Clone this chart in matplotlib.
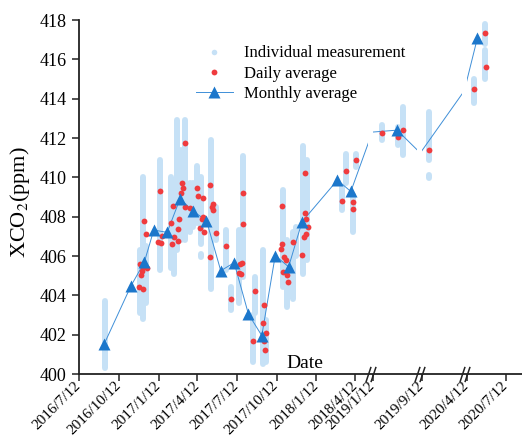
import numpy as np
import pandas as pd
import matplotlib
matplotlib.use("Agg")
import matplotlib.pyplot as plt
import matplotlib.dates as mdates
from matplotlib.lines import Line2D

plt.rcParams['font.family'] = ['Liberation Serif', 'DejaVu Serif']
plt.rcParams['mathtext.fontset'] = 'stix'

# individual soundings, drawn as one column per day (min .. max)
ind_dates = ["2016-09-10", "2016-11-29", "2016-12-06", "2016-12-14", "2017-01-15",
             "2017-02-10", "2017-02-17", "2017-02-24", "2017-03-05", "2017-03-14",
             "2017-03-26", "2017-04-02", "2017-04-12", "2017-04-20", "2017-04-21",
             "2017-05-13", "2017-05-25", "2017-06-16", "2017-06-28", "2017-07-18",
             "2017-07-27", "2017-08-23", "2017-08-19", "2017-09-10", "2017-09-18",
             "2017-10-26", "2017-11-05", "2017-11-20", "2017-11-26", "2017-12-12",
             "2017-12-21", "2018-03-12", "2018-03-22", "2018-04-08", "2018-04-14",
             "2019-02-02", "2019-03-10", "2019-03-22", "2019-09-29", "2019-09-29",
             "2020-04-30", "2020-05-25", "2020-05-25"]
ind_low = [400.3, 403.1, 402.8, 403.6, 405.3, 405.4, 405.1, 406.3, 406.8, 406.8,
           407.2, 407.5, 407.7, 406.6, 405.95, 404.3, 406.8, 405.3, 403.25, 403.6,
           404.95, 403.1, 400.6, 400.5, 400.6, 404.4, 403.4, 403.8, 406.0, 405.1,
           405.8, 408.35, 409.7, 407.2, 410.55, 411.9, 411.65, 411.15, 410.9, 409.95,
           413.8, 416.8, 415.0]
ind_high = [403.7, 406.3, 410.0, 406.5, 410.9, 410.0, 409.6, 412.9, 411.4, 412.9,
            409.7, 409.7, 410.6, 410.0, 406.1, 411.9, 408.5, 407.3, 404.4, 407.3,
            411.1, 404.95, 403.0, 406.3, 402.75, 409.35, 406.8, 407.2, 407.5, 411.6,
            410.9, 409.5, 411.2, 409.1, 411.2, 412.65, 412.55, 413.6, 413.3, 410.1,
            415.0, 417.8, 416.5]

# daily averages
day_dates = ["2016-11-28", "2016-12-08", "2016-11-30", "2016-12-07", "2016-12-16",
             "2016-12-04", "2016-12-02", "2016-12-09", "2016-12-14", "2017-01-15",
             "2017-01-11", "2017-01-18", "2017-01-21", "2017-02-10", "2017-02-14",
             "2017-02-13", "2017-02-17", "2017-02-25", "2017-02-27", "2017-03-01",
             "2017-03-04", "2017-03-07", "2017-03-10", "2017-03-15", "2017-03-14",
             "2017-03-26", "2017-04-12", "2017-04-14", "2017-04-17", "2017-04-24",
             "2017-04-26", "2017-04-22", "2017-04-28", "2017-05-11", "2017-05-19",
             "2017-05-15", "2017-05-17", "2017-05-10", "2017-05-25", "2017-06-16",
             "2017-06-28", "2017-07-27", "2017-07-26", "2017-07-24", "2017-07-20",
             "2017-07-17", "2017-07-22", "2017-08-23", "2017-08-19", "2017-09-10",
             "2017-09-18", "2017-09-13", "2017-09-16", "2017-09-12", "2017-10-25",
             "2017-10-24", "2017-10-23", "2017-10-30", "2017-11-03", "2017-10-28",
             "2017-11-05", "2017-11-08", "2017-11-20", "2017-12-10", "2017-12-15",
             "2017-12-20", "2017-12-25", "2017-12-19", "2017-12-18", "2017-12-17",
             "2018-03-12", "2018-03-22", "2018-04-08", "2018-04-07", "2018-04-14",
             "2019-02-02", "2019-03-10", "2019-03-22", "2019-09-29", "2020-04-30",
             "2020-05-24", "2020-05-26"]
day_vals = [404.44, 404.34, 405.58, 405.46, 405.40, 405.24, 405.03, 407.78, 407.10, 409.30,
            406.71, 406.67, 407.02, 407.69, 408.54, 406.61, 406.98, 406.76, 407.36, 407.87,
            409.19, 409.69, 409.44, 411.73, 408.47, 408.42, 409.44, 409.05, 407.44, 408.93,
            407.97, 407.87, 407.20, 409.61, 408.64, 408.47, 408.34, 405.96, 407.18, 406.52,
            403.80, 409.19, 407.63, 405.66, 405.58, 405.15, 405.08, 404.24, 401.69, 402.58,
            402.10, 401.69, 401.22, 403.51, 408.56, 406.61, 406.34, 405.96, 405.80, 405.20,
            405.03, 404.69, 406.73, 406.05, 406.98, 407.10, 407.49, 407.86, 408.17, 410.23,
            408.80, 410.32, 408.73, 408.39, 410.88, 412.24, 412.06, 412.40, 411.39, 414.47,
            417.32, 415.62]

# monthly averages
mon_dates = ["2016-09-08", "2016-11-09", "2016-12-10", "2017-01-01", "2017-02-01",
             "2017-03-03", "2017-04-02", "2017-05-03", "2017-06-05", "2017-07-06",
             "2017-08-08", "2017-09-08", "2017-10-09", "2017-11-09", "2017-12-10",
             "2018-03-02", "2018-04-02", "2018-12-10", "2019-03-09", "2019-08-01",
             "2020-02-12", "2020-05-07"]
mon_vals = [401.51, 404.47, 405.68, 407.32, 407.20, 408.92, 408.28, 407.80, 405.25, 405.66,
            403.05, 401.95, 406.02, 405.45, 407.74, 409.86, 409.28, 412.30, 412.40, 411.24,
            414.40, 417.10]

tick_labels = ["2016/7/12", "2016/10/12", "2017/1/12", "2017/4/12", "2017/7/12",
               "2017/10/12", "2018/1/12", "2018/4/12", "2019/1/12", "2019/9/12",
               "2020/4/12", "2020/7/12"]

# periods cut out of the time axis
breaks = [("2018-05-12", "2019-01-12"), ("2019-04-24", "2019-09-12"),
          ("2019-12-14", "2020-04-12")]
x_start, x_end = "2016-07-12", "2020-08-18"
gap_days = 11.0

c_ind = '#c6e1f6'
c_day = '#ef3b3e'
c_mon = '#1c77cb'
c_line = '#3f8fd8'


def to_num(d):
    return mdates.date2num(pd.to_datetime(d))


# piecewise linear axis: each break only takes gap_days of room
knots_t = [to_num(x_start)]
knots_u = [0.0]
for a, b in breaks:
    ta, tb = to_num(a), to_num(b)
    knots_u.append(knots_u[-1] + ta - knots_t[-1])
    knots_t.append(ta)
    knots_u.append(knots_u[-1] + gap_days)
    knots_t.append(tb)
knots_t = [knots_t[0] - 1e4] + knots_t + [knots_t[-1] + 1e4]
knots_u = [knots_u[0] - 1e4] + knots_u + [knots_u[-1] + 1e4]


def forward(t):
    return np.interp(t, knots_t, knots_u)


def inverse(u):
    return np.interp(u, knots_u, knots_t)


def in_gap(t):
    return any(to_num(a) < t < to_num(b) for a, b in breaks)


ind_t = np.array([to_num(d) for d in ind_dates])
day_t = np.array([to_num(d) for d in day_dates])
mon_t = np.array([to_num(d) for d in mon_dates])
mon_v = np.array(mon_vals)
shown = np.array([not in_gap(t) for t in mon_t])

fig = plt.figure(figsize=(5.22, 4.40), dpi=100)
ax = fig.add_axes([79 / 522, 1 - 374 / 440, 443 / 522, 354 / 440])
ax.set_xscale('function', functions=(forward, inverse))

ax.vlines(ind_t, ind_low, ind_high, color=c_ind, lw=4.3, capstyle='round', zorder=1)
ax.plot(mon_t, mon_v, '-', color=c_line, lw=0.7, zorder=2)
ax.plot(day_t, day_vals, 'o', color=c_day, ms=4.2, mec='none', zorder=3)
ax.plot(mon_t[shown], mon_v[shown], '^', color=c_mon, ms=8.5, mec='none', zorder=4)

# blank out the breaks and mark them on the axis
trans = ax.get_xaxis_transform()
for a, b in breaks:
    ax.axvspan(to_num(a), to_num(b), ymin=0.005, ymax=1, color='white', lw=0, zorder=4.5)
    ax.plot([to_num(a), to_num(b)], [0, 0], transform=trans, ls='none',
            marker=[(-1, -3), (1, 3)], ms=11, mew=1.1, color='#222222',
            clip_on=False, zorder=6)

ax.set_xlim(to_num(x_start), to_num(x_end))
ax.set_ylim(400, 418)

tick_t = [to_num(pd.to_datetime(s, format="%Y/%m/%d")) for s in tick_labels]
ax.set_xticks(tick_t)
ax.set_xticklabels(tick_labels, rotation=45, ha='right', va='center',
                   rotation_mode='anchor', fontsize=11)
ax.set_yticks(np.arange(400, 419, 2))
ax.tick_params(axis='y', labelsize=13, length=5, width=1.1, pad=4, color='#222222')
ax.tick_params(axis='x', length=5, width=1.1, pad=2, color='#222222')

for s in ['top', 'right']:
    ax.spines[s].set_visible(False)
for s in ['left', 'bottom']:
    ax.spines[s].set_linewidth(1.3)
    ax.spines[s].set_color('#222222')

ax.set_ylabel('XCO$_2$(ppm)', fontsize=16)
ax.yaxis.set_label_coords(-0.107, 0.486)
ax.set_xlabel('Date', fontsize=14)
ax.xaxis.set_label_coords(0.51, 0.03)
ax.xaxis.label.set_va('center')

handles = [Line2D([], [], ls='none', marker='o', ms=4, color=c_ind, mec='none'),
           Line2D([], [], ls='none', marker='o', ms=4.2, color=c_day, mec='none'),
           Line2D([], [], ls='-', lw=0.7, color=c_line, marker='^', ms=8.5,
                  mfc=c_mon, mec='none')]
labels = ['Individual measurement', 'Daily average', 'Monthly average']
ax.legend(handles, labels, loc='upper left', bbox_to_anchor=(0.264, 0.928),
          frameon=False, fontsize=12, handlelength=2.2, handletextpad=0.7,
          labelspacing=0.25, borderpad=0, borderaxespad=0)

fig.savefig('out.png', dpi=100)
